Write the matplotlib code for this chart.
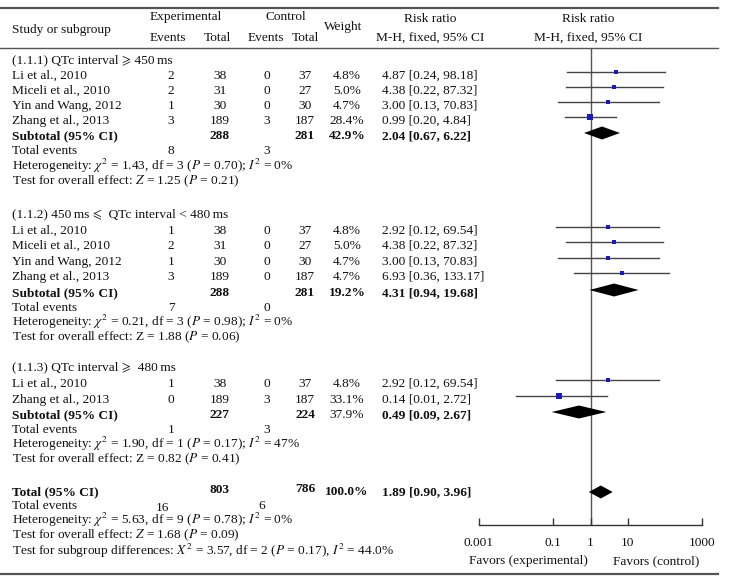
import matplotlib
matplotlib.use("Agg")
import matplotlib.pyplot as plt
import numpy as np

plt.rcParams['font.family'] = ['Liberation Serif', 'STIXGeneral', 'DejaVu Serif']
plt.rcParams['mathtext.fontset'] = 'stix'

# ---------------- data ----------------
group_titles = ["(1.1.1) QTc interval \u2a7e 450\u2009ms",
                "(1.1.2) 450\u2009ms \u2a7d  QTc interval < 480\u2009ms",
                "(1.1.3) QTc interval \u2a7e  480\u2009ms"]

g1_studies = ["Li et al., 2010", "Miceli et al., 2010", "Yin and Wang, 2012", "Zhang et al., 2013"]
g1_exp_events = [2, 2, 1, 3]
g1_exp_total = [38, 31, 30, 189]
g1_ctl_events = [0, 0, 0, 3]
g1_ctl_total = [37, 27, 30, 187]
g1_weight = [4.8, 5.0, 4.7, 28.4]
g1_rr = [4.87, 4.38, 3.00, 0.99]
g1_lo = [0.24, 0.22, 0.13, 0.20]
g1_hi = [98.18, 87.32, 70.83, 4.84]

g2_studies = ["Li et al., 2010", "Miceli et al., 2010", "Yin and Wang, 2012", "Zhang et al., 2013"]
g2_exp_events = [1, 2, 1, 3]
g2_exp_total = [38, 31, 30, 189]
g2_ctl_events = [0, 0, 0, 0]
g2_ctl_total = [37, 27, 30, 187]
g2_weight = [4.8, 5.0, 4.7, 4.7]
g2_rr = [2.92, 4.38, 3.00, 6.93]
g2_lo = [0.12, 0.22, 0.13, 0.36]
g2_hi = [69.54, 87.32, 70.83, 133.17]

g3_studies = ["Li et al., 2010", "Zhang et al., 2013"]
g3_exp_events = [1, 0]
g3_exp_total = [38, 189]
g3_ctl_events = [0, 3]
g3_ctl_total = [37, 187]
g3_weight = [4.8, 33.1]
g3_rr = [2.92, 0.14]
g3_lo = [0.12, 0.01]
g3_hi = [69.54, 2.72]

# subtotals: exp total, ctl total, weight, rr, lo, hi
sub_exp_total = [288, 288, 227]
sub_ctl_total = [281, 281, 224]
sub_weight = [42.9, 19.2, 37.9]
sub_rr = [2.04, 4.31, 0.49]
sub_lo = [0.67, 0.94, 0.09]
sub_hi = [6.22, 19.68, 2.67]
sub_exp_events = [8, 7, 1]
sub_ctl_events = [3, 0, 3]
sub_het = ["Heterogeneity: $\\chi^2$ = 1.43, df = 3 ($P$ = 0.70); $I^2$ = 0%",
           "Heterogeneity: $\\chi^2$ = 0.21, df = 3 ($P$ = 0.98); $I^2$ = 0%",
           "Heterogeneity: $\\chi^2$ = 1.90, df = 1 ($P$ = 0.17); $I^2$ = 47%"]
sub_test = ["Test for overall effect: $Z$ = 1.25 ($P$ = 0.21)",
            "Test for overall effect: Z = 1.88 ($P$ = 0.06)",
            "Test for overall effect: Z = 0.82 ($P$ = 0.41)"]

tot_exp_total, tot_ctl_total, tot_weight = 803, 786, 100.0
tot_rr, tot_lo, tot_hi = 1.89, 0.90, 3.96
tot_exp_events, tot_ctl_events = 16, 6
tot_het = "Heterogeneity: $\\chi^2$ = 5.63, df = 9 ($P$ = 0.78); $I^2$ = 0%"
tot_test = "Test for overall effect: $Z$ = 1.68 ($P$ = 0.09)"
tot_sub = "Test for subgroup differences: $X^2$ = 3.57, df = 2 ($P$ = 0.17), $I^2$ = 44.0%"

tick_vals = [0.001, 0.1, 1, 10, 1000]
tick_labels = ["0.001", "0.1", "1", "10", "1000"]

# ---------------- layout (pixel rows) ----------------
W, H = 730, 582
title_y = [60, 214, 367]
study_y = [[76, 91, 106, 121], [231, 246, 262, 277], [384, 400]]
subtot_y = [136, 293, 415]
events_y = [151, 308, 430]
het_y = [166, 322, 444]
test_y = [181, 337, 459]
total_y, tevents_y, thet_y, ttest_y, tsub_y = 492, 506, 520, 535, 551

X_STUDY, X_EE, X_ET, X_CE, X_CT, X_W, X_RR = 12, 171, 220, 267, 305, 347, 382
FS = 9.6
TXT = '#111111'

fig = plt.figure(figsize=(W / 100, H / 100), dpi=100)
tx = fig.add_axes([0, 0, 1, 1])
tx.set_xlim(0, W)
tx.set_ylim(H, 0)
tx.axis('off')

def t(x, y, s, ha='left', bold=False):
    tx.text(x, y, s, ha=ha, va='center', fontsize=FS, color=TXT,
            fontweight='bold' if bold else 'normal')

# rules
tx.plot([0, 718], [8, 8], color='#555555', lw=1.6)
tx.plot([0, 718], [47.5, 47.5], color='#555555', lw=1.0)
tx.plot([0, 718], [574, 574], color='#555555', lw=1.6)

# header
t(X_STUDY, 30, "Study or subgroup")
t((X_EE + X_ET) / 2 - 10, 17, "Experimental", ha='center')
t(X_EE - 3, 38, "Events", ha='center')
t(X_ET - 3, 38, "Total", ha='center')
t((X_CE + X_CT) / 2, 17, "Control", ha='center')
t(X_CE - 1, 38, "Events", ha='center')
t(X_CT, 38, "Total", ha='center')
t(X_W - 4, 27, "Weight", ha='center')
t(430, 19, "Risk ratio", ha='center')
t(430, 38, "M-H, fixed, 95% CI", ha='center')
t(588, 19, "Risk ratio", ha='center')
t(588, 38, "M-H, fixed, 95% CI", ha='center')

groups = [
    (g1_studies, g1_exp_events, g1_exp_total, g1_ctl_events, g1_ctl_total, g1_weight, g1_rr, g1_lo, g1_hi),
    (g2_studies, g2_exp_events, g2_exp_total, g2_ctl_events, g2_ctl_total, g2_weight, g2_rr, g2_lo, g2_hi),
    (g3_studies, g3_exp_events, g3_exp_total, g3_ctl_events, g3_ctl_total, g3_weight, g3_rr, g3_lo, g3_hi),
]

# forest axes: x log scale 0.001..1000 mapped to px 479..702, y in pixel rows
AX_L, AX_R, AX_T, AX_B = 479, 702, 47.5, 525
fx = fig.add_axes([AX_L / W, (H - AX_B) / H, (AX_R - AX_L) / W, (AX_B - AX_T) / H])
fx.set_xscale('log')
fx.set_xlim(0.001, 1000)
fx.set_ylim(AX_B, AX_T)
fx.patch.set_alpha(0)
for s in ['top', 'right', 'left']:
    fx.spines[s].set_visible(False)
fx.spines['bottom'].set_color('#333333')
fx.spines['bottom'].set_linewidth(1.0)
fx.set_yticks([])
fx.set_xticks(tick_vals)
fx.set_xticklabels(tick_labels)
fx.minorticks_off()
fx.tick_params(axis='x', direction='in', length=5, width=1.0, color='#333333',
               labelsize=FS, pad=9, labelcolor=TXT)
fx.axvline(1, color='#555555', lw=1.0, zorder=1)

SQ = '#1a1ab8'
LC = '#444444'

def diamond(rr, lo, hi, y, h=6.5):
    fx.fill([lo, rr, hi, rr], [y, y - h, y, y + h], color='black', zorder=3, lw=0)

for gi, (names, ee, et, ce, ct, w, rr, lo, hi) in enumerate(groups):
    t(X_STUDY, title_y[gi], group_titles[gi])
    for i, name in enumerate(names):
        y = study_y[gi][i]
        t(X_STUDY, y, name)
        t(X_EE, y, str(ee[i]), ha='center')
        t(X_ET, y, str(et[i]), ha='center')
        t(X_CE, y, str(ce[i]), ha='center')
        t(X_CT, y, str(ct[i]), ha='center')
        t(X_W, y, f"{w[i]:.1f}%", ha='center')
        t(X_RR, y, f"{rr[i]:.2f} [{lo[i]:.2f}, {hi[i]:.2f}]")
        my = y - 4
        fx.plot([lo[i], hi[i]], [my, my], color=LC, lw=1.0, zorder=2)
        fx.plot([rr[i]], [my], marker='s', color=SQ, markersize=0.75 * np.sqrt(w[i]) + 0.6,
                markeredgewidth=0, zorder=4, linestyle='none')
    ys = subtot_y[gi]
    t(X_STUDY, ys, "Subtotal (95% CI)", bold=True)
    t(X_ET, ys, str(sub_exp_total[gi]), ha='center', bold=True)
    t(X_CT, ys, str(sub_ctl_total[gi]), ha='center', bold=True)
    t(X_W, ys, f"{sub_weight[gi]:.1f}%", ha='center', bold=(gi != 2))
    t(X_RR, ys, f"{sub_rr[gi]:.2f} [{sub_lo[gi]:.2f}, {sub_hi[gi]:.2f}]", bold=True)
    diamond(sub_rr[gi], sub_lo[gi], sub_hi[gi], ys - 3)
    t(X_STUDY, events_y[gi], "Total events")
    t(X_EE, events_y[gi], str(sub_exp_events[gi]), ha='center')
    t(X_CE, events_y[gi], str(sub_ctl_events[gi]), ha='center')
    t(X_STUDY, het_y[gi], sub_het[gi])
    t(X_STUDY, test_y[gi], sub_test[gi])

# overall
t(X_STUDY, total_y, "Total (95% CI)", bold=True)
t(X_ET, total_y - 2, str(tot_exp_total), ha='center', bold=True)
t(X_CT, total_y - 3, str(tot_ctl_total), ha='center', bold=True)
t(X_W, total_y, f"{tot_weight:.1f}%", ha='center', bold=True)
t(X_RR, total_y, f"{tot_rr:.2f} [{tot_lo:.2f}, {tot_hi:.2f}]", bold=True)
diamond(tot_rr, tot_lo, tot_hi, total_y)
t(X_STUDY, tevents_y, "Total events")
t(X_EE - 8, tevents_y + 2, str(tot_exp_events), ha='center')
t(X_CE - 5, tevents_y, str(tot_ctl_events), ha='center')
t(X_STUDY, thet_y, tot_het)
t(X_STUDY, ttest_y, tot_test)
t(X_STUDY, tsub_y, tot_sub)

t(588, 561, "Favors (experimental)", ha='right')
t(613, 561, "Favors (control)", ha='left')

fig.savefig("out.png", dpi=100)
